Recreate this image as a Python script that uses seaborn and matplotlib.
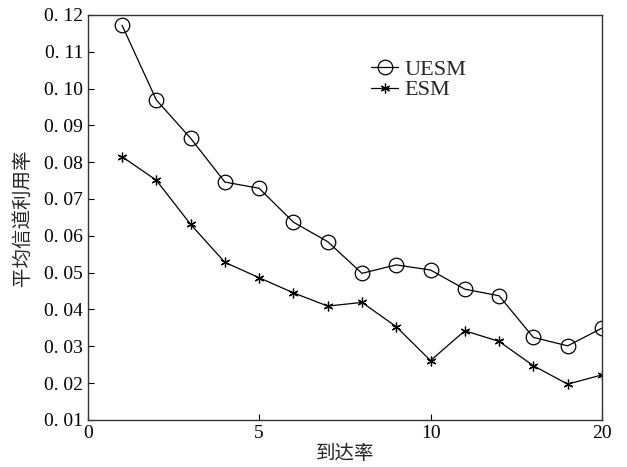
import pandas as pd
import numpy as np
import matplotlib.pyplot as plt
import seaborn as sns

arrival = [1, 2, 3, 4, 5, 6, 7, 8, 9, 10, 11, 12, 13, 14, 15]
uesm = [0.1172, 0.0969, 0.0865, 0.0746, 0.0729, 0.0637, 0.0584, 0.0498,
        0.0521, 0.0507, 0.0455, 0.0437, 0.0324, 0.0301, 0.0349]
esm = [0.0815, 0.0751, 0.0631, 0.0528, 0.0486, 0.0445, 0.0409, 0.0419,
       0.0353, 0.0261, 0.0342, 0.0313, 0.0247, 0.0197, 0.0222]
xtick_pos = [0, 5, 10, 15]
xtick_labels = ['0', '5', '10', '20']
ytick_pos = [0.01, 0.02, 0.03, 0.04, 0.05, 0.06, 0.07, 0.08, 0.09, 0.10, 0.11, 0.12]

sns.set_style('ticks')
plt.rcParams['font.family'] = ['Liberation Serif', 'Noto Sans CJK SC']

fig, ax = plt.subplots(figsize=(6.27, 4.67), dpi=100)
fig.subplots_adjust(left=0.140, right=0.960, top=0.968, bottom=0.101)

sns.lineplot(x=arrival, y=uesm, ax=ax, color='black', lw=0.9, marker='o',
             markersize=10.5, mfc='none', mec='black', mew=0.9, label='UESM')
sns.lineplot(x=arrival, y=esm, ax=ax, color='black', lw=0.9, marker=(6, 2, 0),
             markersize=7, mec='black', mew=0.9, label='ESM')

ax.set_xlim(0, 15)
ax.set_ylim(0.01, 0.12)
ax.set_xticks(xtick_pos)
ax.set_xticklabels(xtick_labels)
ax.set_yticks(ytick_pos)
ax.set_yticklabels(['0. %02d' % round(v * 100) for v in ytick_pos])
ax.tick_params(direction='in', length=4, width=0.8, labelsize=14, colors='black')
for s in ax.spines.values():
    s.set_visible(True)
    s.set_linewidth(1.0)
    s.set_color('#333333')

ax.set_xlabel('到达率', fontsize=14, family='Noto Sans CJK SC', labelpad=1)
ax.set_ylabel('平均信道利用率', fontsize=14, family='Noto Sans CJK SC', labelpad=8)

ax.legend(loc='upper left', bbox_to_anchor=(0.53, 0.918), frameon=False,
          fontsize=16, handlelength=1.2, handletextpad=0.3, labelspacing=0.0,
          borderpad=0)

plt.savefig('out.png', dpi=100)
